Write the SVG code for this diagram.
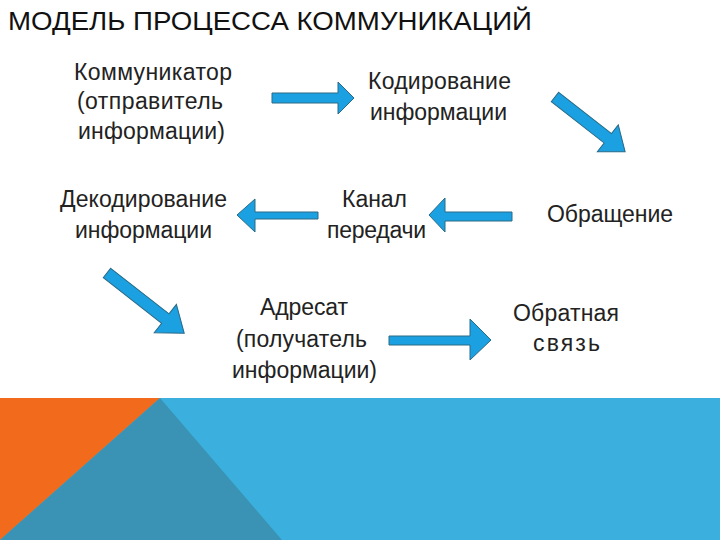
<svg xmlns="http://www.w3.org/2000/svg" width="720" height="540" viewBox="0 0 720 540">
<style>
.t{font-family:"Liberation Sans",Arial,sans-serif;font-size:23px;fill:#222}
.title{font-family:"Liberation Sans",Arial,sans-serif;font-size:25px;fill:#111}
.ar{fill:#1BA1E2;stroke:#2A6A86;stroke-width:1;stroke-linejoin:miter}
</style>
<rect width="720" height="540" fill="#fff"/>
<g id="background">
<rect x="0" y="398" width="720" height="142" fill="#3BB0DF"/>
<polygon points="0,398 160,398 0,540" fill="#F26B1D"/>
<polygon points="160,398 0,540 282,540" fill="#3A93B4"/>
</g>
<text class="title" x="8" y="30" textLength="524" lengthAdjust="spacingAndGlyphs">МОДЕЛЬ ПРОЦЕССА КОММУНИКАЦИЙ</text>
<g id="n1"><text class="t" x="74" y="80" textLength="158">Коммуникатор</text><text class="t" x="77" y="109" textLength="146">(отправитель</text><text class="t" x="78" y="139" textLength="147">информации)</text></g>
<g id="n2"><text class="t" x="368" y="89" textLength="143">Кодирование</text><text class="t" x="370" y="120" textLength="137">информации</text></g>
<g id="n3"><text class="t" x="547" y="222" textLength="126">Обращение</text></g>
<g id="n4"><text class="t" x="342" y="207" textLength="65">Канал</text><text class="t" x="327" y="238" textLength="99">передачи</text></g>
<g id="n5"><text class="t" x="60" y="207" textLength="167">Декодирование</text><text class="t" x="75" y="238" textLength="137">информации</text></g>
<g id="n6"><text class="t" x="260" y="315" textLength="88">Адресат</text><text class="t" x="236" y="347" textLength="131">(получатель</text><text class="t" x="232" y="378" textLength="145">информации)</text></g>
<g id="n7"><text class="t" x="513" y="321" textLength="106">Обратная</text><text class="t" x="533" y="351" textLength="67">связь</text></g>
<g id="connectors">
<polygon class="ar" points="272,93 338,93 338,82 354,98 338,114 338,103 272,103"/>
<polygon class="ar" transform="translate(555,97) rotate(38)" points="0,-6 67,-6 67,-17 89,0 67,17 67,6 0,6"/>
<polygon class="ar" points="318,212 255,212 255,199 237,215 255,232 255,219 318,219"/>
<polygon class="ar" points="512,212 445,212 445,198 429,215 445,232 445,221 512,221"/>
<polygon class="ar" transform="translate(107,273) rotate(38)" points="0,-6 74,-6 74,-18 98,0 74,18 74,6 0,6"/>
<polygon class="ar" points="389,336 470,336 470,319 491,340 470,360 470,345 389,345"/>
</g>
</svg>
